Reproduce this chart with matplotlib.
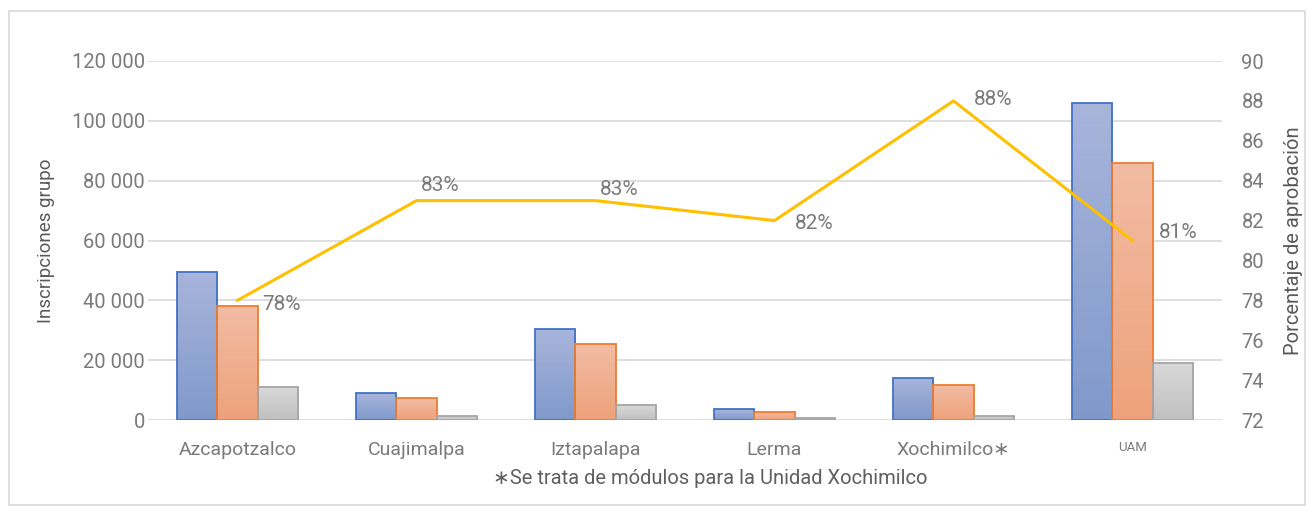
import numpy as np
import matplotlib
matplotlib.use('Agg')
import matplotlib.pyplot as plt
from matplotlib.colors import LinearSegmentedColormap
from matplotlib.patches import Rectangle

plt.rcParams['font.family'] = ['Roboto', 'DejaVu Sans']

# data
unidades = ['Azcapotzalco', 'Cuajimalpa', 'Iztapalapa', 'Lerma', 'Xochimilco\u2217', 'UAM']
inscritos = [49500, 9000, 30300, 3600, 14200, 106000]
aprobados = [38000, 7200, 25300, 2800, 11800, 85900]
reprobados = [11000, 1300, 5000, 650, 1450, 19200]
porcentaje = [78, 83, 83, 82, 88, 81]

# label offsets in points (dx, dy) for the percentage labels
offs = [(18, -3), (3, 11), (3, 8), (15, -2), (15, 1), (19, 6)]

grey_txt = '#7a7a7a'

fig = plt.figure(figsize=(13.13, 5.12), dpi=100)
fig.patches.append(Rectangle((9/1313, 7/512), 1296/1313, 494/512, transform=fig.transFigure,
                             fill=False, edgecolor='#d9d9d9', linewidth=1.2))
ax = fig.add_axes([148/1313, 1-420/512, 1074/1313, 359/512])
ax2 = ax.twinx()

x = np.arange(len(unidades))
w = 0.224
series = [
    (inscritos, -w, '#4472c4', '#a8b5db', '#8099cb'),
    (aprobados, 0, '#ed7d31', '#f2bca4', '#eea27b'),
    (reprobados, w, '#a5a5a5', '#d9d9d9', '#c0c0c0'),
]
grad = np.linspace(0, 1, 256).reshape(-1, 1)
for vals, off, edge, top, bot in series:
    cmap = LinearSegmentedColormap.from_list('g', [bot, top])
    bars = ax.bar(x + off, vals, w, facecolor='none', edgecolor=edge, linewidth=1.3, zorder=3)
    for b in bars:
        x0, y0 = b.get_x(), b.get_y()
        im = ax.imshow(grad, cmap=cmap, origin='lower', aspect='auto',
                       extent=[x0, x0 + b.get_width(), y0, y0 + b.get_height()], zorder=2)
        im.set_clip_path(b)

ax.set_xlim(-0.5, len(unidades) - 0.5)
ax.set_ylim(0, 120000)
ax.set_yticks(np.arange(0, 120001, 20000))
ax.set_yticklabels([f'{v:,}'.replace(',', ' ') for v in range(0, 120001, 20000)])
ax.grid(axis='y', color='#d9d9d9', linewidth=1.2, zorder=0)
ax.set_axisbelow(True)
ax.set_xticks(x)
ax.set_xticklabels(unidades)
for lab in ax.get_xticklabels():
    lab.set_fontsize(14)
    lab.set_color(grey_txt)
ax.get_xticklabels()[-1].set_fontsize(9.5)
ax.tick_params(axis='x', length=0, pad=15)
ax.tick_params(axis='y', length=0, labelsize=14.5, labelcolor=grey_txt, pad=2)
for s in ax.spines.values():
    s.set_visible(False)
ax.set_ylabel('Inscripciones grupo', fontsize=13.5, color='#595959', labelpad=12)

ax2.plot(x, porcentaje, color='#ffc000', linewidth=2.2, zorder=4)
for xi, p, (dx, dy) in zip(x, porcentaje, offs):
    ax2.annotate(f'{p}%', (xi, p), xytext=(dx, dy), textcoords='offset points',
                 fontsize=15, color=grey_txt, va='center', ha='left')
ax2.set_ylim(72, 90)
ax2.set_yticks(np.arange(72, 91, 2))
ax2.tick_params(axis='y', length=0, labelsize=14.5, labelcolor=grey_txt, pad=14)
for s in ax2.spines.values():
    s.set_visible(False)
ax2.set_ylabel('Porcentaje de aprobación', fontsize=14.5, color='#595959', labelpad=14)

fig.text(710/1313, 1-479/512, '\u2217Se trata de módulos para la Unidad Xochimilco',
         ha='center', va='center', fontsize=14.5, color='#5f5f5f',
         family=['Roboto', 'DejaVu Sans'])

fig.savefig('out.png', dpi=100)
